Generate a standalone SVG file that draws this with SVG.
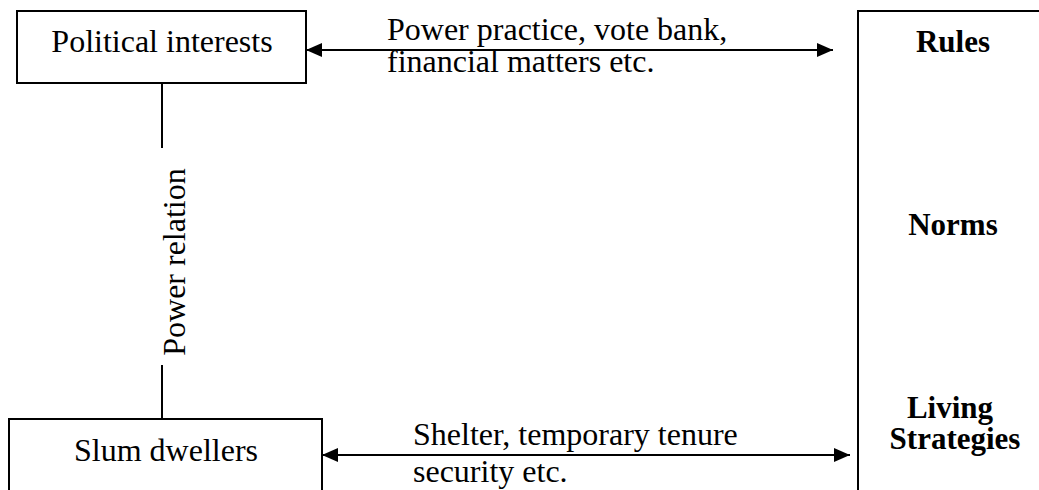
<svg xmlns="http://www.w3.org/2000/svg" width="1039" height="490" viewBox="0 0 1039 490">
  <defs>
    <style>
      .box { fill: #ffffff; stroke: #000000; stroke-width: 2; }
      .line { fill: none; stroke: #000000; stroke-width: 2; }
      .lbl { font-family: "Liberation Serif", "Times New Roman", serif; font-size: 32px; fill: #000000; }
      .bold { font-family: "Liberation Serif", "Times New Roman", serif; font-size: 31px; font-weight: bold; fill: #000000; text-anchor: middle; }
      .mid { text-anchor: middle; }
    </style>
    <marker id="arrow" viewBox="0 0 16 14" refX="16" refY="7" markerWidth="16" markerHeight="14" markerUnits="userSpaceOnUse" orient="auto-start-reverse">
      <path d="M0,0 L16,7 L0,14 Z" fill="#000000"/>
    </marker>
  </defs>
  <rect width="1039" height="490" fill="#ffffff"/>

  <!-- institutional framework column, open to the right and bottom -->
  <g id="framework">
    <rect class="box" x="858" y="11" width="200" height="500"/>
    <text class="bold" x="953" y="52">Rules</text>
    <text class="bold" x="953" y="235">Norms</text>
    <text class="bold" x="950" y="418">Living</text>
    <text class="bold" x="955" y="449">Strategies</text>
  </g>

  <g id="political-interests">
    <rect class="box" x="17" y="11" width="289" height="72"/>
    <text class="lbl mid" x="162" y="52">Political interests</text>
  </g>

  <g id="slum-dwellers">
    <rect class="box" x="9" y="419" width="313" height="100"/>
    <text class="lbl mid" x="166" y="461">Slum dwellers</text>
  </g>

  <g id="connectors">
    <line class="line" x1="306" y1="50" x2="833" y2="50" marker-start="url(#arrow)" marker-end="url(#arrow)"/>
    <text class="lbl" x="387" y="40">Power practice, vote bank,</text>
    <text class="lbl" x="387" y="72">financial matters etc.</text>

    <line class="line" x1="322" y1="455" x2="850" y2="455" marker-start="url(#arrow)" marker-end="url(#arrow)"/>
    <text class="lbl" x="413" y="445">Shelter, temporary tenure</text>
    <text class="lbl" x="413" y="482">security etc.</text>

    <line class="line" x1="162" y1="83" x2="162" y2="148"/>
    <line class="line" x1="162" y1="365" x2="162" y2="419"/>
    <text class="lbl mid" transform="translate(185,262) rotate(-90)">Power relation</text>
  </g>
</svg>
